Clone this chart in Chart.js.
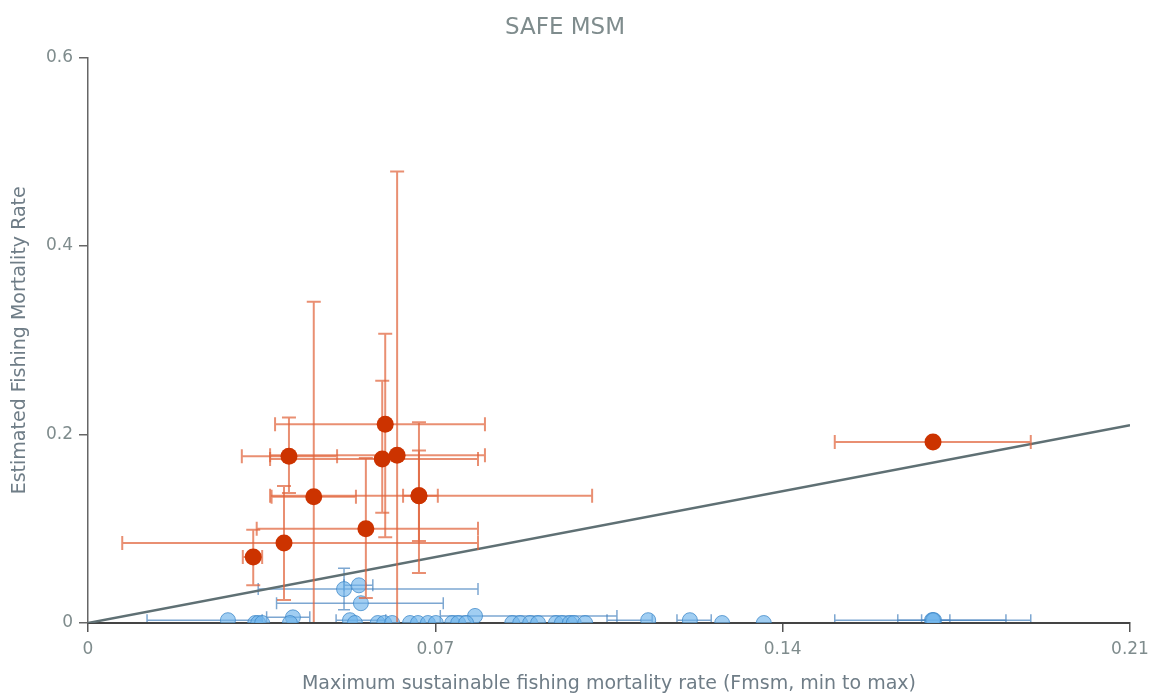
<!DOCTYPE html>
<html>
<head>
<meta charset="utf-8">
<title>SAFE MSM</title>
<script src="https://cdn.jsdelivr.net/npm/chart.js@4.4.0/dist/chart.umd.min.js"></script>
<style>
  html, body { margin: 0; padding: 0; background: #fff; }
</style>
</head>
<body>
<canvas id="myChart" width="1153" height="694"></canvas>
<script>
// ticks
var xTicks = [0, 0.07, 0.14, 0.21];
var yTicks = [0, 0.2, 0.4, 0.6];

// reference line Fest = Fmsm
var lineX = [0, 0.21];
var lineY = [0, 0.21];

// stocks above Fmsm (red)
var redX    = [0.0333, 0.0395, 0.0405, 0.0593, 0.0623, 0.0599, 0.0455, 0.0667, 0.0667, 0.1703, 0.0560];
var redY    = [0.070,  0.085,  0.177,  0.174,  0.178,  0.211,  0.134,  0.135,  0.135,  0.192,  0.100];
var redXMin = [0.0312, 0.0069, 0.0310, 0.0367, 0.0367, 0.0377, 0.0370, 0.0635, 0.0367, 0.1505, 0.0340];
var redXMax = [0.0351, 0.0786, 0.0502, 0.0786, 0.0800, 0.0800, 0.0540, 0.0705, 0.1016, 0.1900, 0.0786];
var redYMin = [0.040,  0.0244, 0.138,  0.117,  -0.02,  0.091,  -0.02,  0.087,  0.053,  0.192,  0.0265];
var redYMax = [0.099,  0.1455, 0.218,  0.257,  0.479,  0.307,  0.341,  0.183,  0.213,  0.192,  0.175];

// stocks below Fmsm (blue)
var blueX    = [0.0516, 0.0546, 0.0550, 0.0413, 0.0780,
                0.0282, 0.0337, 0.0343, 0.0351, 0.0407, 0.0528, 0.0538, 0.0584, 0.0597, 0.0613,
                0.0649, 0.0665, 0.0685, 0.0701, 0.0734, 0.0746, 0.0762, 0.0855, 0.0871, 0.0891,
                0.0907, 0.0943, 0.0955, 0.0971, 0.0979, 0.1002, 0.1129, 0.1213, 0.1278, 0.1362,
                0.1701, 0.1705, 0.1703];
var blueY    = [0.036, 0.040, 0.021, 0.006, 0.0075,
                0.003, 0, 0, 0, 0, 0.003, 0, 0, 0, 0,
                0, 0, 0, 0, 0, 0, 0, 0, 0, 0,
                0, 0, 0, 0, 0, 0, 0.003, 0.003, 0, 0,
                0.003, 0.003, 0.003];
var blueXMin = [0.0343, 0.0516, 0.0380, 0.0360, 0.0710,
                0.0119, 0.0337, 0.0343, 0.0351, 0.0407, 0.0500, 0.0538, 0.0584, 0.0597, 0.0613,
                0.0649, 0.0665, 0.0685, 0.0701, 0.0734, 0.0746, 0.0762, 0.0855, 0.0871, 0.0891,
                0.0907, 0.0943, 0.0955, 0.0971, 0.0979, 0.1002, 0.1046, 0.1187, 0.1278, 0.1362,
                0.1632, 0.1505, 0.1680];
var blueXMax = [0.0786, 0.0574, 0.0716, 0.0447, 0.1066,
                0.0351, 0.0337, 0.0343, 0.0351, 0.0407, 0.0600, 0.0538, 0.0584, 0.0597, 0.0613,
                0.0649, 0.0665, 0.0685, 0.0701, 0.0734, 0.0746, 0.0762, 0.0855, 0.0871, 0.0891,
                0.0907, 0.0943, 0.0955, 0.0971, 0.0979, 0.1002, 0.1137, 0.1256, 0.1278, 0.1362,
                0.1850, 0.1900, 0.1737];
var blueYMin = [0.014, 0.040, 0.021, 0.006, 0.0075,
                0.003, 0, 0, 0, 0, 0.003, 0, 0, 0, 0,
                0, 0, 0, 0, 0, 0, 0, 0, 0, 0,
                0, 0, 0, 0, 0, 0, 0.003, 0.003, 0, 0,
                0.003, 0.003, 0.003];
var blueYMax = [0.058, 0.040, 0.021, 0.006, 0.0075,
                0.003, 0, 0, 0, 0, 0.003, 0, 0, 0, 0,
                0, 0, 0, 0, 0, 0, 0, 0, 0, 0,
                0, 0, 0, 0, 0, 0, 0.003, 0.003, 0, 0,
                0.003, 0.003, 0.003];

function buildPoints(xs, ys, xMin, xMax, yMin, yMax) {
    var pts = [];
    for (var i = 0; i < xs.length; i++) {
        pts.push({x: xs[i], y: ys[i], xMin: xMin[i], xMax: xMax[i], yMin: yMin[i], yMax: yMax[i]});
    }
    return pts;
}

function buildLine(xs, ys) {
    var pts = [];
    for (var i = 0; i < xs.length; i++) pts.push({x: xs[i], y: ys[i]});
    return pts;
}

// draws x/y error bars with caps from the data values, through the chart scales
var errorBarPlugin = {
    id: 'errorBars',
    beforeDatasetDraw: function(chart, args) {
        var ds = chart.data.datasets[args.index];
        if (!ds.errorColor) return;
        var xs = chart.scales.x, ys = chart.scales.y, ctx = chart.ctx;
        var area = chart.chartArea;
        var cap = ds.capSize;
        ctx.save();
        ctx.beginPath();
        ctx.rect(area.left, area.top - 2, area.right - area.left, area.bottom - area.top + 1);
        ctx.clip();
        ctx.strokeStyle = ds.errorColor;
        ctx.lineWidth = ds.errorWidth;
        ds.data.forEach(function(p) {
            var px = xs.getPixelForValue(p.x), py = ys.getPixelForValue(p.y);
            if (p.xMin !== p.xMax) {
                var x1 = xs.getPixelForValue(p.xMin), x2 = xs.getPixelForValue(p.xMax);
                ctx.beginPath();
                ctx.moveTo(x1, py); ctx.lineTo(x2, py);
                ctx.moveTo(x1, py - cap); ctx.lineTo(x1, py + cap);
                ctx.moveTo(x2, py - cap); ctx.lineTo(x2, py + cap);
                ctx.stroke();
            }
            if (p.yMin !== p.yMax) {
                var y1 = ys.getPixelForValue(p.yMin), y2 = ys.getPixelForValue(p.yMax);
                ctx.beginPath();
                ctx.moveTo(px, y1); ctx.lineTo(px, y2);
                ctx.moveTo(px - cap, y1); ctx.lineTo(px + cap, y1);
                ctx.moveTo(px - cap, y2); ctx.lineTo(px + cap, y2);
                ctx.stroke();
            }
        });
        ctx.restore();
    }
};

var textGrey = '#7f8c8d';
var font = 'DejaVu Sans';

var ctx = document.getElementById('myChart').getContext('2d');
var myChart = new Chart(ctx, {
    type: 'scatter',
    data: {
        datasets: [{
            label: 'Above Fmsm',
            data: buildPoints(redX, redY, redXMin, redXMax, redYMin, redYMax),
            backgroundColor: '#cc3300',
            borderColor: '#cc3300',
            borderWidth: 0,
            pointRadius: 8.5,
            errorColor: 'rgba(224, 100, 60, 0.72)',
            errorWidth: 2,
            capSize: 7
        }, {
            label: 'Fest = Fmsm',
            type: 'line',
            data: buildLine(lineX, lineY),
            borderColor: '#5f7074',
            borderWidth: 2.5,
            pointRadius: 0,
            fill: false
        }, {
            label: 'Below Fmsm',
            data: buildPoints(blueX, blueY, blueXMin, blueXMax, blueYMin, blueYMax),
            backgroundColor: 'rgba(110, 180, 235, 0.65)',
            borderColor: 'rgba(60, 135, 200, 0.75)',
            borderWidth: 1,
            pointRadius: 7.5,
            clip: 0,
            errorColor: 'rgba(70, 130, 190, 0.7)',
            errorWidth: 1.5,
            capSize: 6
        }]
    },
    options: {
        responsive: false,
        animation: false,
        events: [],
        layout: { padding: { left: 0, right: 23, top: 0, bottom: 0 } },
        plugins: {
            legend: { display: false },
            tooltip: { enabled: false },
            title: {
                display: true,
                text: 'SAFE MSM',
                color: textGrey,
                font: { family: font, size: 23, weight: 'normal' },
                padding: { top: 14, bottom: 16 }
            }
        },
        scales: {
            x: {
                type: 'linear',
                min: 0,
                max: 0.21,
                afterBuildTicks: function(scale) {
                    scale.ticks = xTicks.map(function(v) { return {value: v}; });
                },
                afterFit: function(scale) {
                    scale.height = 71;
                    scale.paddingRight = 0;
                },
                ticks: {
                    color: textGrey,
                    font: { family: font, size: 17 },
                    padding: 7,
                    maxRotation: 0,
                    callback: function(v) { return String(v); }
                },
                grid: { drawOnChartArea: false, drawTicks: true, tickLength: 9, color: '#555', lineWidth: 1.5 },
                border: { display: true, color: '#444', width: 2 },
                title: {
                    display: true,
                    text: 'Maximum sustainable fishing mortality rate (Fmsm, min to max)',
                    color: '#6f7d87',
                    font: { family: font, size: 19, lineHeight: 1 },
                    padding: 0
                }
            },
            y: {
                type: 'linear',
                min: 0,
                max: 0.6,
                afterBuildTicks: function(scale) {
                    scale.ticks = yTicks.map(function(v) { return {value: v}; });
                },
                afterFit: function(scale) { scale.width = 88; },
                ticks: {
                    color: textGrey,
                    font: { family: font, size: 17 },
                    padding: 6,
                    callback: function(v) { return String(v); }
                },
                grid: { drawOnChartArea: false, drawTicks: true, tickLength: 9, color: '#666', lineWidth: 1.5 },
                border: { display: true, color: '#666', width: 1.5 },
                title: {
                    display: true,
                    text: 'Estimated Fishing Mortality Rate',
                    color: '#6f7d87',
                    font: { family: font, size: 19 },
                    padding: { top: 9, bottom: 0 }
                }
            }
        }
    },
    plugins: [errorBarPlugin]
});
</script>
</body>
</html>
